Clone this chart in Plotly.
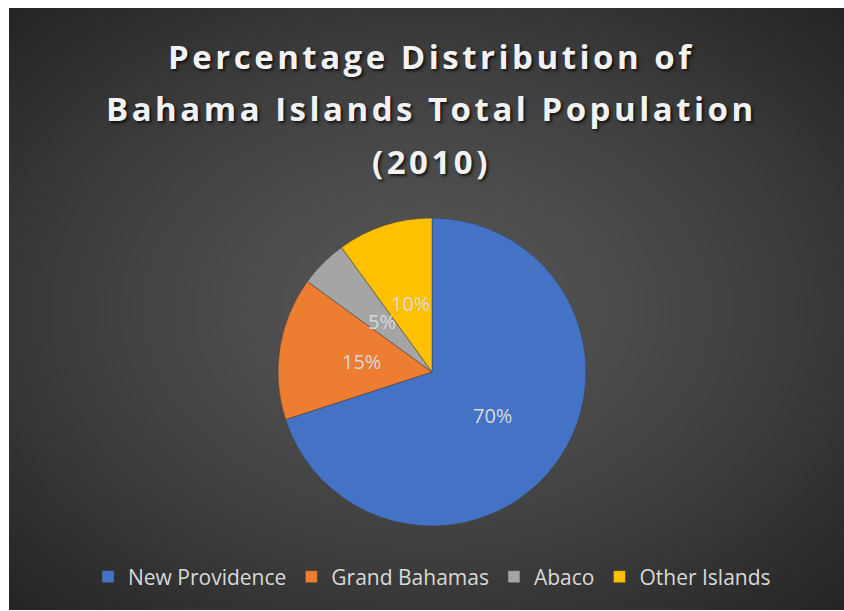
import numpy as np
import plotly.graph_objects as go

# ---- data ----
islands = ["New Providence", "Grand Bahamas", "Abaco", "Other Islands"]
shares = [70, 15, 5, 10]
colors = ["#4472C4", "#ED7D31", "#A5A5A5", "#FFC000"]
title_lines = ["Percentage Distribution of", "Bahama Islands Total Population", "(2010)"]

# ---- layout constants (pixels) ----
W, H = 844, 611
PIE_CX, PIE_CY, PIE_R = 432, 372, 154
LABEL_FRAC = 0.48

# background radial gradient (styling only)
gx = np.linspace(0, 1, 80)
gy = np.linspace(0, 1, 60)
XX, YY = np.meshgrid(gx, gy)
R = np.sqrt(((XX - 0.5) / 0.5) ** 2 + ((YY - 0.5) / 0.5) ** 2) / np.sqrt(2)

fig = go.Figure()
fig.add_trace(go.Heatmap(
    x=gx, y=gy, z=R, zsmooth="best", showscale=False, hoverinfo="skip",
    colorscale=[[0, "#5a5a5a"], [0.55, "#404040"], [1, "#242424"]],
    zmin=0, zmax=1, xaxis="x", yaxis="y",
))

fig.add_trace(go.Pie(
    labels=islands, values=shares, sort=False, direction="clockwise", rotation=0,
    marker=dict(colors=colors, line=dict(color="rgba(60,60,60,0.6)", width=0.8)),
    textinfo="none",
    domain=dict(x=[(PIE_CX - PIE_R) / W, (PIE_CX + PIE_R) / W],
                y=[(H - PIE_CY - PIE_R) / H, (H - PIE_CY + PIE_R) / H]),
    hoverinfo="label+percent",
))

# data labels on each slice's mid-angle at about half radius (Excel style)
vals = np.array(shares, dtype=float)
cum = np.cumsum(vals) - vals / 2
theta = 2 * np.pi * cum / vals.sum()
lx = PIE_CX - 3 + LABEL_FRAC * PIE_R * np.sin(theta)
ly = PIE_CY - 2 - LABEL_FRAC * PIE_R * np.cos(theta)
for x, y, v in zip(lx, ly, shares):
    fig.add_annotation(
        text=f"{v}%", xref="x2", yref="y2", x=x, y=y, showarrow=False,
        xanchor="center", yanchor="middle",
        font=dict(family="Open Sans", size=20, color="#D9D9D9"),
    )

for line, yc in zip(title_lines, [57, 109, 161]):
    fig.add_annotation(
        text=f'<span style="letter-spacing:3.5px">{line}</span>',
        xref="paper", yref="paper", x=431 / W, y=1 - yc / H,
        xanchor="center", yanchor="middle", showarrow=False,
        font=dict(family="Open Sans", size=33, color="#F2F2F2", weight="bold",
                  shadow="2px 2px 3px rgba(0,0,0,0.7)"),
    )

fig.update_layout(
    width=W, height=H,
    margin=dict(l=0, r=0, t=0, b=0),
    paper_bgcolor="white", plot_bgcolor="rgba(0,0,0,0)",
    xaxis=dict(domain=[9 / W, 1], range=[0, 1], visible=False, fixedrange=True),
    yaxis=dict(domain=[1 / H, 1 - 8 / H], range=[0, 1], visible=False, fixedrange=True),
    xaxis2=dict(domain=[0, 1], range=[0, W], visible=False, fixedrange=True, overlaying="x"),
    yaxis2=dict(domain=[0, 1], range=[H, 0], visible=False, fixedrange=True, overlaying="y"),
    showlegend=True,
    legend=dict(orientation="h", x=432 / W, xanchor="center", y=(H - 577) / H, yanchor="middle",
                font=dict(family="Open Sans", size=21, color="#D9D9D9"),
                bgcolor="rgba(0,0,0,0)", itemwidth=30, traceorder="normal"),
)

fig.write_html("out.html")
